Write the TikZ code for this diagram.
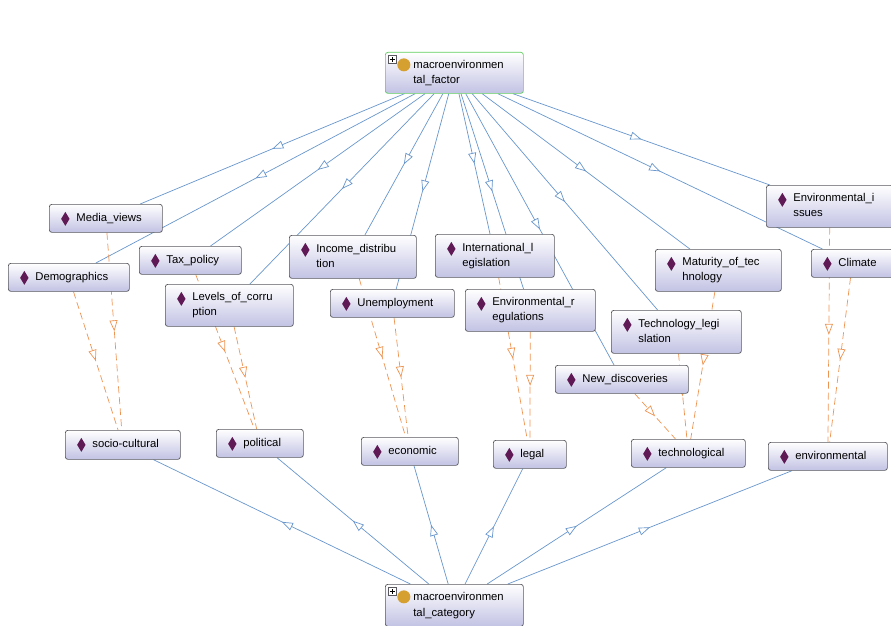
\documentclass[tikz,border=0pt]{standalone}
\usepackage{fontspec}
\setmainfont{Liberation Sans}
\usepackage{tikz}
\usetikzlibrary{arrows.meta, backgrounds, decorations.markings, positioning}

\definecolor{edgeblue}{RGB}{104,150,205}
\definecolor{edgeorange}{RGB}{238,148,82}
\definecolor{boxgray}{RGB}{88,88,94}
\definecolor{boxlav}{RGB}{194,194,228}
\definecolor{indpurple}{RGB}{95,25,85}
\definecolor{clsgold}{RGB}{214,160,48}
\definecolor{clsgreen}{RGB}{96,206,96}

\newcommand{\lbl}[1]{\hspace*{23pt}\begin{tabular}[t]{@{}l@{}}#1\end{tabular}}

\begin{document}
\begin{tikzpicture}[x=1pt,y=-1pt]
\tikzset{
  ind/.style={
    draw=boxgray, line width=0.7pt, rounded corners=2.5pt,
    top color=white, bottom color=boxlav,
    anchor=north west, inner xsep=4pt, inner ysep=0pt,
    minimum height=28pt, align=left,
    font=\fontsize{11.3}{15}\selectfont,
    path picture={
      \fill[indpurple, sharp corners] ([shift={(16pt,-14.5pt)}]path picture bounding box.north west)
        +(0,7pt) -- +(4.2pt,0) -- +(0,-7pt) -- +(-4.2pt,0) -- cycle;
    }
  },
  cls/.style={
    draw=boxgray, line width=0.7pt, rounded corners=2.5pt,
    top color=white, bottom color=boxlav,
    anchor=north west, inner xsep=5pt, inner ysep=0pt,
    minimum height=41pt, align=left,
    font=\fontsize{11.3}{15.5}\selectfont,
    path picture={
      \draw[boxgray, fill=white, line width=0.4pt, sharp corners]
        ([shift={(3pt,-3pt)}]path picture bounding box.north west) rectangle +(8pt,-8pt);
      \draw[black, line width=0.6pt]
        ([shift={(7pt,-4.8pt)}]path picture bounding box.north west) -- +(0,-4.4pt)
        ([shift={(4.8pt,-7pt)}]path picture bounding box.north west) -- +(4.4pt,0);
      \fill[clsgold] ([shift={(18.5pt,-12.5pt)}]path picture bounding box.north west) circle (6.5pt);
    }
  },
  isa/.style={
    edgeblue, line width=0.7pt, postaction=decorate,
    decoration={markings, mark=at position 0.5 with {\arrow{Triangle[length=11pt,width=8pt,fill=white]}}}
  },
  inst/.style={
    edgeorange, line width=0.7pt, dash pattern=on 7pt off 4pt, postaction=decorate,
    decoration={markings, mark=at position 0.5 with {\arrow{Triangle[length=11pt,width=8pt,fill=white]}}}
  }
}

\useasboundingbox (0,0) rectangle (891,626);

% classes
\node[cls, draw=clsgreen, text width=128pt] (factor) at (385,52) {\hspace*{23pt}\begin{tabular}[t]{@{}l@{}}macroenvironmen\\tal\_factor\end{tabular}};
\node[cls, minimum height=42pt, text width=128pt] (category) at (385,584) {\hspace*{23pt}\begin{tabular}[t]{@{}l@{}}macroenvironmen\\tal\_category\end{tabular}};

% individuals
\node[ind, text width=105pt] (media) at (49,204) {\lbl{Media\_views}};
\node[ind, text width=113pt] (demo) at (8,263) {\lbl{Demographics}};
\node[ind, text width=94pt] (tax) at (139,246) {\lbl{Tax\_policy}};
\node[ind, minimum height=42pt, text width=120pt] (levels) at (165,284) {\lbl{Levels\_of\_corru\\ption}};
\node[ind, minimum height=43pt, text width=119pt] (income) at (289,235) {\lbl{Income\_distribu\\tion}};
\node[ind, text width=116pt] (unemp) at (330,289) {\lbl{Unemployment}};
\node[ind, minimum height=43pt, text width=111pt] (intl) at (435,234) {\lbl{International\_l\\egislation}};
\node[ind, minimum height=42pt, text width=122pt] (envreg) at (465,289) {\lbl{Environmental\_r\\egulations}};
\node[ind, minimum height=42pt, text width=118pt] (matur) at (655,249) {\lbl{Maturity\_of\_tec\\hnology}};
\node[ind, minimum height=43pt, text width=122pt] (techleg) at (611,310) {\lbl{Technology\_legi\\slation}};
\node[ind, text width=125pt] (newdisc) at (555,365) {\lbl{New\_discoveries}};
\node[ind, minimum height=42pt, text width=119pt] (enviss) at (766,185) {\lbl{Environmental\_i\\ssues}};
\node[ind, text width=74pt] (climate) at (811,249) {\lbl{Climate}};

% categories
\node[ind, minimum height=29pt, text width=107pt] (socio) at (65,430) {\lbl{socio-cultural}};
\node[ind, text width=79pt] (politic) at (216,429) {\lbl{political}};
\node[ind, text width=89pt] (econ) at (361,437) {\lbl{economic}};
\node[ind, text width=65pt] (legal) at (493,440) {\lbl{legal}};
\node[ind, text width=106pt] (techno) at (631,439) {\lbl{technological}};
\node[ind, text width=111pt] (environ) at (768,442) {\lbl{environmental}};

\begin{scope}[on background layer]
% factor to individuals
\draw[isa] (factor) -- (media);
\draw[isa] (factor) -- (demo);
\draw[isa] (factor) -- (tax);
\draw[isa] (factor) -- (levels);
\draw[isa] (factor) -- (income);
\draw[isa] (factor) -- (unemp);
\draw[isa] (factor) -- (intl);
\draw[isa] (factor) -- (envreg);
\draw[isa] (factor) -- (newdisc);
\draw[isa] (factor) -- (techleg);
\draw[isa] (factor) -- (matur);
\draw[isa] (factor) -- (enviss);
\draw[isa] (factor) -- (climate);

% individuals to categories
\draw[inst] (media) -- (socio);
\draw[inst] (demo) -- (socio);
\draw[inst] (tax) -- (politic);
\draw[inst] (levels) -- (politic);
\draw[inst] (income) -- (econ);
\draw[inst] (unemp) -- (econ);
\draw[inst] (intl) -- (legal);
\draw[inst] (envreg) -- (legal);
\draw[inst] (newdisc) -- (techno);
\draw[inst] (techleg) -- (techno);
\draw[inst] (matur) -- (techno);
\draw[inst] (enviss) -- (environ);
\draw[inst] (climate) -- (environ);

% category to categories
\draw[isa] (category) -- (socio);
\draw[isa] (category) -- (politic);
\draw[isa] (category) -- (econ);
\draw[isa] (category) -- (legal);
\draw[isa] (category) -- (techno);
\draw[isa] (category) -- (environ);
\end{scope}

\end{tikzpicture}
\end{document}
